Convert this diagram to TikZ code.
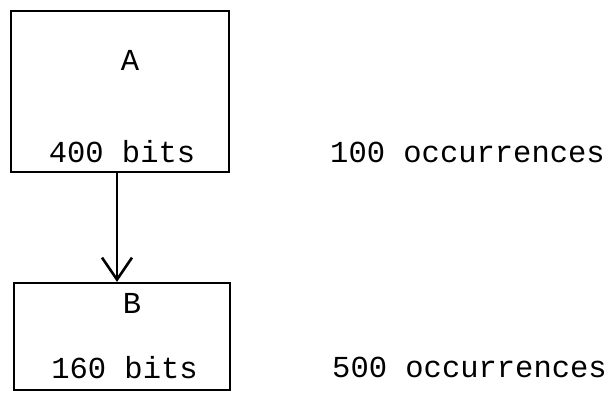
\documentclass[tikz,border=0pt]{standalone}
\usepackage{fontspec}
\setmainfont{Liberation Mono}
\usetikzlibrary{arrows.meta}
\tikzset{
  recbox/.style={draw=black, line width=2.2pt, inner sep=0pt, fill=none},
  lbl/.style={anchor=base, inner sep=0pt, font=\fontsize{30.5}{32}\selectfont},
  link/.style={line width=1.6pt, -{Straight Barb[length=22pt, width=30pt, line width=2.6pt]}}
}
\begin{document}
\begin{tikzpicture}[x=1pt, y=-1pt]
\useasboundingbox (0,0) rectangle (612,392);
\node[recbox, minimum width=218pt, minimum height=161pt] (boxA) at (120,91.5) {};
\node[recbox, minimum width=216pt, minimum height=107pt] (boxB) at (122,336.5) {};
\node[lbl] (tA) at (130,70) {A};
\node[lbl] (bitsA) at (122,162) {400 bits};
\node[lbl] (occA) at (467.5,162) {100 occurrences};
\node[lbl] (tB) at (132,313) {B};
\node[lbl] (bitsB) at (124.5,378) {160 bits};
\node[lbl] (occB) at (469.5,377) {500 occurrences};
\draw[link] ([xshift=-3pt]boxA.south) -- ([xshift=-3pt]boxA.south |- boxB.north);
\end{tikzpicture}
\end{document}
